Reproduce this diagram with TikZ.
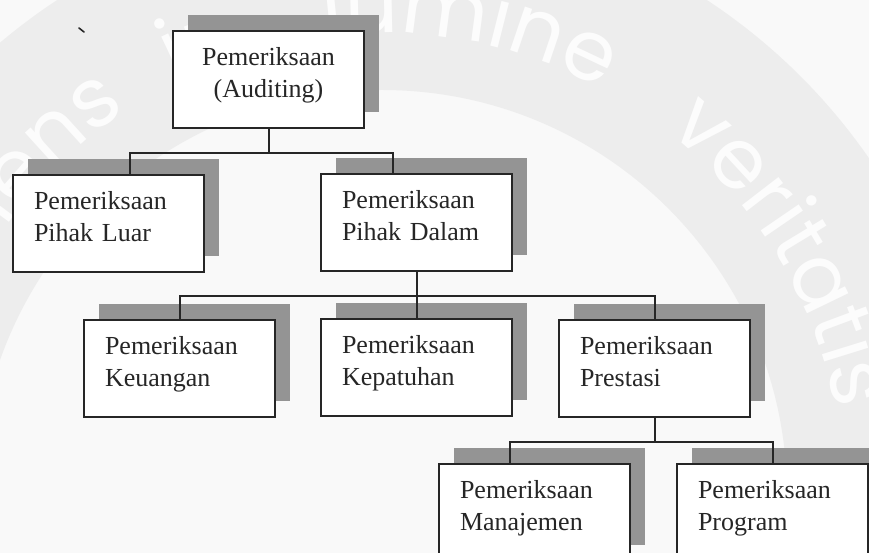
\documentclass[tikz,border=0pt]{standalone}
\usepackage{fontspec}
\setmainfont{Liberation Serif}
\newfontfamily\wmfamily{Poppins}
\usetikzlibrary{shadows,decorations.text,calc}
\definecolor{ink}{gray}{0.15}
\definecolor{ringgray}{gray}{0.93}
\definecolor{paper}{gray}{0.975}
\definecolor{wmletter}{gray}{0.99}
\definecolor{shadegray}{gray}{0.58}
\newcommand\wmfont{\wmfamily\fontsize{84}{84}\selectfont}

\begin{document}
\begin{tikzpicture}[x=1pt,y=1pt,
  orgbox/.style={draw=ink, line width=2pt, fill=white, anchor=north west,
    minimum width=191pt, minimum height=97pt, inner xsep=21pt, inner ysep=0pt,
    text width=149pt, align=left, text height=35pt, text depth=62pt,
    font=\fontsize{26}{32}\selectfont, text=ink,
    drop shadow={shadow xshift=15pt, shadow yshift=16pt, fill=shadegray, opacity=1}},
  link/.style={draw=ink, line width=2pt},
  wmtext/.style 2 args={decorate, decoration={text along path, text color=wmletter,
    text align=#1, text={|\wmfont|#2}}}]

\useasboundingbox (0,0) rectangle (869,553);
\clip (0,0) rectangle (869,553);

% motto ring in the background
\fill[paper] (0,0) rectangle (869,553);
\coordinate (wmc) at (382,58);
\fill[ringgray, even odd rule] (wmc) circle[radius=592] (wmc) circle[radius=405];
\path[wmtext={right}{Serviens}] ($(wmc)+(200:462)$) arc[start angle=200, end angle=123.5, radius=462];
\path[wmtext={center}{in}] ($(wmc)+(131.9:462)$) arc[start angle=131.9, end angle=91.9, radius=462];
\path[wmtext={center}{lumine}] ($(wmc)+(104.3:462)$) arc[start angle=104.3, end angle=54.3, radius=462];
\path[wmtext={center}{veritatis}] ($(wmc)+(71.2:462)$) arc[start angle=71.2, end angle=-8.8, radius=462];

% small stray mark
\draw[ink, line width=1.6pt, line cap=round] (79,525) -- (84,521);

% boxes
\node[orgbox, align=center] (audit) at (172,523) {Pemeriksaan\\(Auditing)};
\node[orgbox] (luar)  at (12,379)  {Pemeriksaan\\Pihak Luar};
\node[orgbox] (dalam) at (320,380) {Pemeriksaan\\Pihak Dalam};
\node[orgbox] (keu)   at (83,234)  {Pemeriksaan\\Keuangan};
\node[orgbox] (kep)   at (320,235) {Pemeriksaan\\Kepatuhan};
\node[orgbox] (pres)  at (558,234) {Pemeriksaan\\Prestasi};
\node[orgbox] (man)   at (438,90)  {Pemeriksaan\\Manajemen};
\node[orgbox] (prog)  at (676,90)  {Pemeriksaan\\Program};

% connectors
\coordinate (j1) at ($(audit.south)+(0,-24)$);
\coordinate (luarin) at ($(luar.north west)+(118,0)$);
\coordinate (dalamin) at ($(dalam.north west)+(73,0)$);
\draw[link] (audit.south) -- (j1);
\draw[link] (luarin) |- (j1) -| (dalamin);

\coordinate (j2) at ($(dalam.south)+(0,-24)$);
\draw[link] (dalam.south) -- (kep.north);
\draw[link] (keu.north) |- (j2) -| (pres.north);

\coordinate (j3) at ($(pres.south)+(0,-24)$);
\coordinate (manin) at ($(man.north west)+(72,0)$);
\draw[link] (pres.south) -- (j3);
\draw[link] (manin) |- (j3) -| (prog.north);
\end{tikzpicture}
\end{document}
